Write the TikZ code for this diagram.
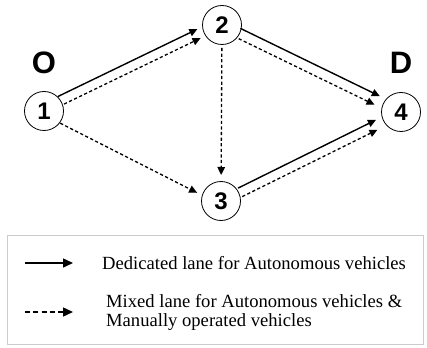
\documentclass[tikz,border=0pt]{standalone}
\usepackage{fontspec}
\setmainfont{Liberation Serif}
\newfontfamily\nodefont{Liberation Sans}
\usetikzlibrary{arrows.meta,calc}
\tikzset{
  vert/.style={circle,draw,line width=0.8pt,minimum size=39pt,inner sep=0pt,
    font=\nodefont\fontsize{24}{24}\selectfont\bfseries},
  odlabel/.style={inner sep=0pt,font=\nodefont\fontsize{31}{31}\selectfont\bfseries},
  sol/.style={line width=1.4pt,-{Triangle[length=8pt,width=7.5pt]}},
  dsh/.style={line width=1.3pt,dash pattern=on 3.2pt off 2.4pt,-{Triangle[length=8pt,width=7.5pt]}},
  legsol/.style={line width=1.5pt,-{Triangle[length=10pt,width=9pt]}},
  legdsh/.style={line width=1.5pt,dash pattern=on 5pt off 3.3pt,-{Triangle[length=10pt,width=9pt]}},
  legtext/.style={inner sep=0pt,font=\fontsize{18.6}{18.8}\selectfont,align=left}
}
\begin{document}
\begin{tikzpicture}[x=1pt,y=-1pt]
\useasboundingbox (0,0) rectangle (427,347);
% nodes
\node[vert] (n1) at (44,111) {1};
\node[vert] (n2) at (222,25) {2};
\node[vert] (n3) at (221,201) {3};
\node[vert] (n4) at (401,112) {4};
\node[odlabel] (lo) at (44,63) {O};
\node[odlabel] (ld) at (401,63) {D};
% 1 -> 2
\draw[sol,shorten <=19pt,shorten >=24pt] ($(n1)!7pt!90:(n2)$) -- ($(n2)!7pt!-90:(n1)$);
\draw[dsh,shorten <=21pt,shorten >=25pt] ($(n1)!2.5pt!-90:(n2)$) -- ($(n2)!2.5pt!90:(n1)$);
% 2 -> 4
\draw[sol,shorten <=18pt,shorten >=26pt] ($(n2)!5pt!90:(n4)$) -- ($(n4)!5pt!-90:(n2)$);
\draw[dsh,shorten <=21pt,shorten >=27pt] ($(n2)!5pt!-90:(n4)$) -- ($(n4)!5pt!90:(n2)$);
% 3 -> 4
\draw[sol,shorten <=21pt,shorten >=26pt] ($(n3)!4pt!90:(n4)$) -- ($(n4)!4pt!-90:(n3)$);
\draw[dsh,shorten <=21pt,shorten >=29pt] ($(n3)!5.5pt!-90:(n4)$) -- ($(n4)!5.5pt!90:(n3)$);
% 1 -> 3
\draw[dsh,shorten <=20pt,shorten >=25pt] ($(n1)!3.5pt!-90:(n3)$) -- ($(n3)!3.5pt!90:(n1)$);
% 2 -> 3
\draw[dsh,shorten <=23pt,shorten >=26pt] (n2.center) -- (n3.center);
% legend
\node[draw=black!20,line width=0.8pt,inner sep=0pt,minimum width=416pt,minimum height=109pt,anchor=north west] (box) at (7,235) {};
\coordinate (a1) at (25,263);
\coordinate (b1) at (73,263);
\coordinate (a2) at (25,312);
\coordinate (b2) at (73,312);
\draw[legsol] (a1) -- (b1);
\draw[legdsh] (a2) -- (b2);
\node[legtext,anchor=base west] (t1) at (102,269) {Dedicated lane for Autonomous vehicles};
\node[legtext,anchor=west] (t2) at (106,312.5) {Mixed lane for Autonomous vehicles \&\\Manually operated vehicles};
\end{tikzpicture}
\end{document}
